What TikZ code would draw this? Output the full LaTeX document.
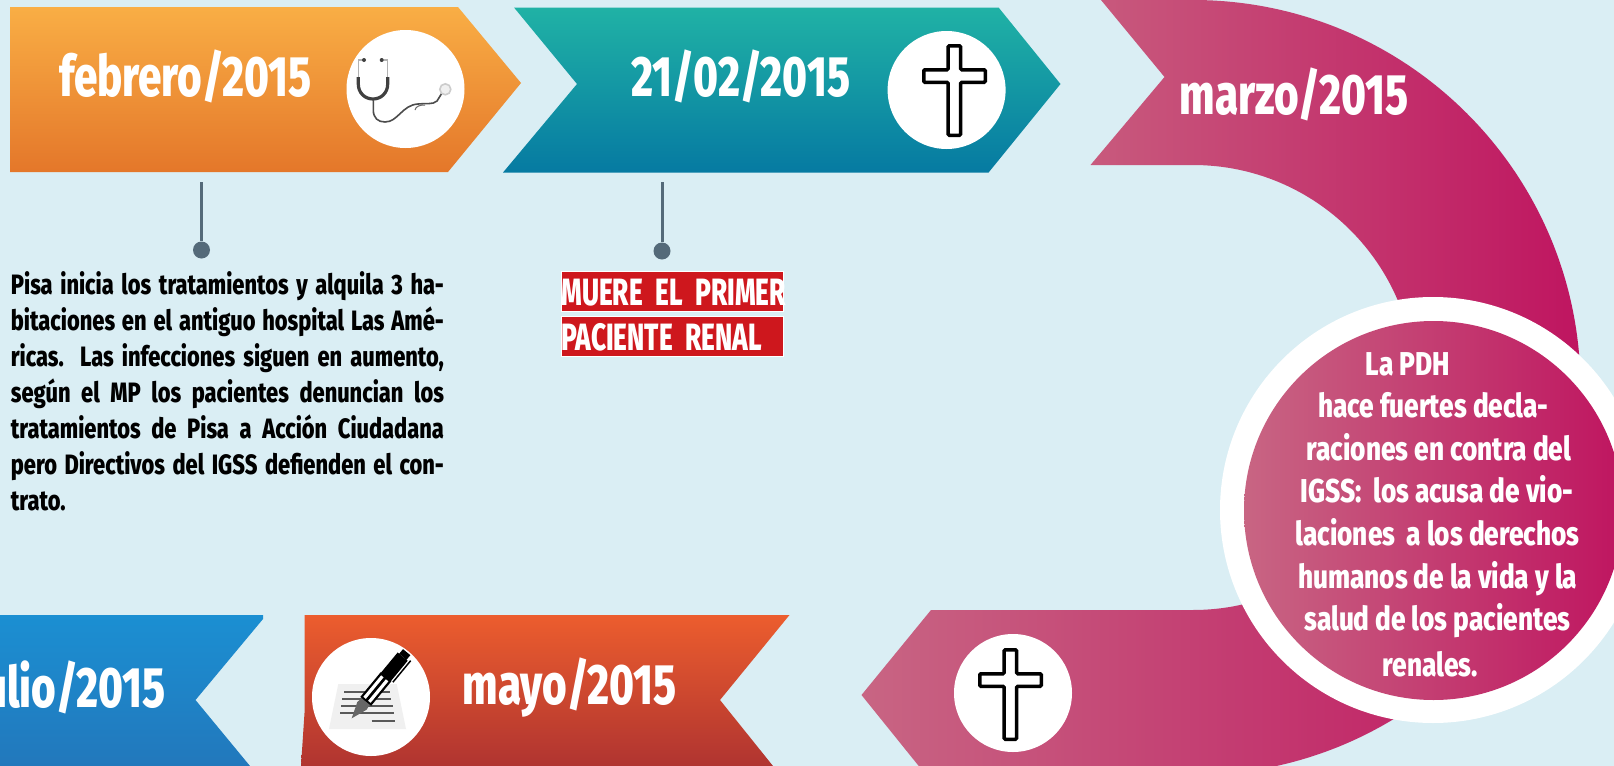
\documentclass[tikz,border=0pt]{standalone}
\usepackage{fontspec}
\usepackage{graphicx}
\setmainfont{Fira Sans}
\newfontfamily\dinh[FakeStretch=0.74]{Fira Sans ExtraBold}
\newfontfamily\dinb[FakeStretch=0.78]{Fira Sans ExtraBold}
\newfontfamily\dinc[FakeStretch=0.795]{Fira Sans ExtraBold}
\newfontfamily\dinr[FakeStretch=0.69]{Fira Sans ExtraBold}
\definecolor{bgc}{HTML}{DAEEF4}
\definecolor{linec}{HTML}{546A79}
\definecolor{redc}{HTML}{CE171D}
\definecolor{magl}{HTML}{C86583}
\definecolor{magr}{HTML}{BF1560}
\definecolor{maglt}{HTML}{C85A7D}
\definecolor{orat}{HTML}{F9AE45}
\definecolor{orab}{HTML}{E4772A}
\definecolor{teat}{HTML}{20B2A5}
\definecolor{teab}{HTML}{067AA2}
\definecolor{blut}{HTML}{1B8FD2}
\definecolor{blub}{HTML}{2278BC}
\definecolor{rert}{HTML}{EC5D2E}
\definecolor{rerm}{HTML}{E65A2E}
\definecolor{rerb}{HTML}{B03430}
\tikzset{
  heading/.style={text=white,anchor=base,inner sep=0pt,font=\dinh\fontsize{28.5}{30}\selectfont},
  circtext/.style={text=white,anchor=base,inner sep=0pt,font=\dinc\fontsize{16.5}{20}\selectfont},
  iconcircle/.style={circle,fill=white,minimum size=59pt,inner sep=0pt},
  dotnode/.style={circle,fill=linec,minimum size=8.5pt,inner sep=0pt},
  leader/.style={draw=linec,line width=1.5pt},
  redbox/.style={fill=redc,draw=white,line width=.4pt,text=white,anchor=north west,inner sep=0pt,text width=111pt,align=left,text height=17pt,text depth=3pt,font=\dinr\fontsize{19}{20}\selectfont},
  crossicon/.pic={\draw[black,fill=white,line width=1.75pt,rounded corners=.6pt]
     (26.2,1.75)--(38.7,1.75)--(38.7,25.75)--(63.25,25.75)--(63.25,38.25)--(38.7,38.25)--(38.7,91.25)--(26.2,91.25)--(26.2,38.25)--(1.75,38.25)--(1.75,25.75)--(26.2,25.75)--cycle;}
}
\begin{document}
\begin{tikzpicture}[x=0.5pt,y=-0.5pt]
\useasboundingbox (0,0) rectangle (1614,766);
\clip (0,0) rectangle (1614,766);
\fill[bgc] (0,0) rectangle (1614,766);
% banners
\shade[top color=orat,bottom color=orab]
  (10,7)--(458,7)--(521,83)--(448,172)--(10,172)--cycle;
\shade[top color=teat,bottom color=teab]
  (514,7.5)--(998.6,7.5)--(1060.5,84)--(988.6,172.5)--(503,172.5)--(577,84)--cycle;
\shade[left color=maglt,right color=magr]
  (1101,0)--(1193,0) .. controls (1407,0) and (1580.5,173.5) .. (1580.5,387.5)
  --(1415.5,387.5) .. controls (1415.5,264.6) and (1316,165) .. (1193,165)
  --(1090.5,165)--(1164.5,77)--cycle;
\shade[left color=magl,right color=magr]
  (931,610)--(1193,610) .. controls (1316,610) and (1415.5,510) .. (1415.5,387.5)
  --(1580.5,387.5) .. controls (1580.5,601.5) and (1407,775) .. (1193,775)
  --(926,775)--(861.5,695)--cycle;
\shade[top color=blut,bottom color=blub]
  (0,615)--(263,615)--(263,619)--(195.5,700)--(250,766)--(0,766)--cycle;
\shade[top color=rert,middle color=rerm,bottom color=rerb]
  (304.5,615)--(789.5,615)--(720,700)--(773,766)--(301,766)--(304.5,713)--cycle;
% icon circles
\node[iconcircle] (c1) at (405.5,89) {};
\node[iconcircle] (c2) at (946.6,90) {};
\node[iconcircle] (c3) at (1013,693) {};
\node[iconcircle] (c4) at (371,697) {};
% crosses
\pic at (922,44) {crossicon};
\pic at (978,648) {crossicon};
% stethoscope
\draw[black!30,line width=.7pt] (364,60)--(358.3,60)--(358.3,77);
\draw[black!30,line width=.7pt] (381.7,60)--(387.7,60)--(387.7,77);
\fill[black!75] (364,60) circle[radius=2];
\fill[black!75] (381.7,60) circle[radius=2];
\draw[black!75,line width=1.6pt] (358.3,77)--(358.3,84) .. controls (358.3,93) and (365,99) .. (373,99) .. controls (381,99) and (387.7,93) .. (387.7,84)--(387.7,77);
\draw[black!70,line width=.8pt] (373.3,100)--(373.3,110) .. controls (373.3,118) and (378,122) .. (385,122) .. controls (398,122) and (402,105) .. (418,104) .. controls (425,103) and (433,105) .. (437,101) -- (442,93);
\draw[black!60,line width=.5pt] (415,110) .. controls (416,106) and (420,105) .. (425,105);
\draw[black!20,fill=black!6,line width=.8pt] (445.3,89.3) circle[radius=5.5];
% paper and pen
\fill[black!6] (338.3,684)--(396.7,684)--(406,729)--(329,729)--cycle;
\foreach \ya/\xa/\xb in {691.7/344/390,698.7/342/391,705.7/341/393,713/340/393.7,721/371.7/395}
  \draw[black!65,line width=.9pt] (\xa,\ya)--(\xb,\ya);
\begin{scope}[shift={(351.7,718.3)},x={(0.3185pt,0.3855pt)},y={(0.3855pt,-0.3185pt)}]
  \fill[black!60] (0,0)--(16,-6)--(24,-5)--(24,5)--(16,6)--cycle;
  \fill[black] (22,-7)--(54,-7)--(54,7)--(22,7)--cycle;
  \fill[white] (24,-4.7)--(54,-4.7)--(54,-1.5)--(24,-1.5)--cycle;
  \fill[white] (24,1.5)--(54,1.5)--(54,4.7)--(24,4.7)--cycle;
  \fill[black] (52,-6.5)--(80,-6.5)--(80,6.5)--(52,6.5)--cycle;
  \fill[black] (80,-4.5)--(86,-4.5)--(86,5)--(80,5)--cycle;
  \fill[black] (54,8)--(82,8)--(82,9.5)--(54,9.5)--cycle;
\end{scope}
% large circle
\node[circle,fill=white,minimum size=213pt,inner sep=0pt] (ring) at (1433,510) {};
\shade[left color=magl,right color=magr] (1433.5,510.5) ++(-189.5,0)
  .. controls (1244,406) and (1329,321) .. (1433.5,321)
  .. controls (1538,321) and (1623,406) .. (1623,510.5)
  .. controls (1623,615) and (1538,700) .. (1433.5,700)
  .. controls (1329,700) and (1244,615) .. (1244,510.5)--cycle;
% headings
\node[heading] (h1) at (185.5,96) {febrero/2015};
\node[heading] (h2) at (740.7,96) {21/02/2015};
\node[heading] (h3) at (1294,114) {marzo/2015};
\node[heading] (h4) at (569.8,704) {mayo/2015};
\node[heading,anchor=base east] (h5) at (166,707) {julio/2015};
% leaders
\coordinate (l1) at (201.5,182);
\coordinate (l2) at (662,182);
\node[dotnode] (d1) at (201.5,250) {};
\node[dotnode] (d2) at (662,251) {};
\draw[leader] (l1)--(d1);
\draw[leader] (l2)--(d2);
% paragraph
\node[anchor=north west,inner sep=0pt,text width=216.5pt,align=justify,text=black,font=\dinb\fontsize{14}{18}\selectfont] (para) at (10.5,271) {Pisa inicia los tratamientos y alquila 3 ha-\linebreak bitaciones en el antiguo hospital Las Amé-\linebreak ricas. Las infecciones siguen en aumento,\linebreak según el MP los pacientes denuncian los\linebreak tratamientos de Pisa a Acción Ciudadana\linebreak pero Directivos del IGSS defienden el con-\linebreak trato.};
% red boxes
\node[redbox] (r1) at (561,271) {\mbox{MUERE EL PRIMER}};
\node[redbox] (r2) at (561,316) {\mbox{PACIENTE RENAL}};
% circle text
\node[circtext] (t1) at (1408,375) {La PDH};
\node[circtext] (t2) at (1433.4,417) {hace fuertes decla-};
\node[circtext] (t3) at (1439,460) {raciones en contra del};
\node[circtext] (t4) at (1437,502) {IGSS:\, los acusa de vio-};
\node[circtext] (t5) at (1437.5,545) {laciones\, a los derechos};
\node[circtext] (t6) at (1437.7,588) {humanos de la vida y la};
\node[circtext] (t7) at (1437.4,630) {salud de los pacientes};
\node[circtext] (t8) at (1430.5,676) {renales.};
\end{tikzpicture}
\end{document}
